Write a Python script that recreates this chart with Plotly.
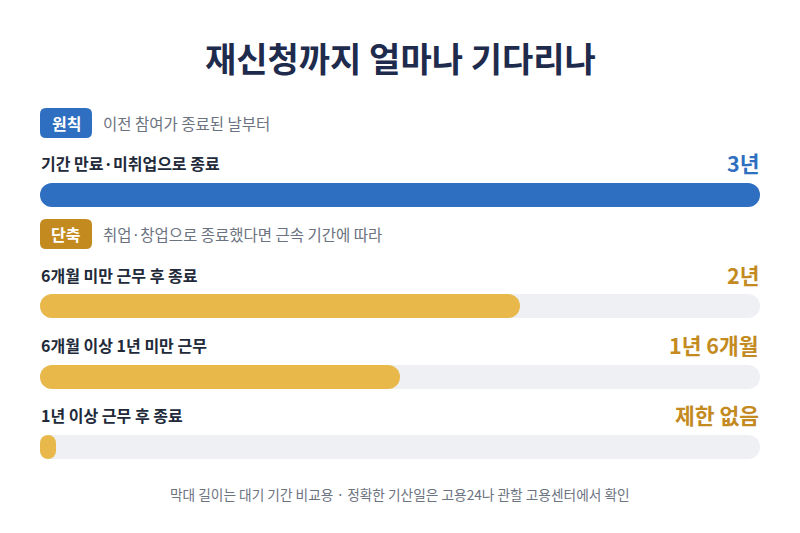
import plotly.graph_objects as go

# ---- data ----
title = "재신청까지 얼마나 기다리나"
sections = ["원칙", "단축"]
section_notes = ["이전 참여가 종료된 날부터", "취업·창업으로 종료했다면 근속 기간에 따라"]
categories = ["기간 만료·미취업으로 종료", "6개월 미만 근무 후 종료",
              "6개월 이상 1년 미만 근무", "1년 이상 근무 후 종료"]
wait_months = [36, 24, 18, 0.8]
value_labels = ["3년", "2년", "1년 6개월", "제한 없음"]
row_section = [0, 1, 1, 1]
max_months = 36
footer = "막대 길이는 대기 기간 비교용 · 정확한 기산일은 고용24나 관할 고용센터에서 확인"

# ---- style ----
W, H = 800, 533
FONT = "Noto Sans CJK KR"
sec_colors = ["#2f6fc1", "#c38b1f"]
bar_colors = ["#2f6fc1", "#e8b94a"]
val_colors = ["#2f6fc1", "#c38b1f"]
track = "#eef0f3"
bar_y = [195, 306, 377, 447]        # layout positions (px from top)
label_y = [163, 275, 345, 415]
badge_y = [123, 234]
BAR_H = 24

fig = go.Figure()

def pill(vals, color, name):
    fig.add_trace(go.Bar(
        y=bar_y, x=vals, base=[0] * len(vals),
        orientation="h", width=BAR_H,
        marker=dict(color=color, cornerradius=12, line=dict(width=0)),
        hoverinfo="skip", showlegend=False, name=name))

pill([max_months] * len(categories), track, "track")
pill(wait_months, [bar_colors[s] for s in row_section], "wait")

px = lambda x: x / W
py = lambda y: 1 - y / H

shapes = []
def rounded_rect(x0, y0, x1, y1, r, color):
    X0, X1 = px(x0), px(x1)
    Y0, Y1 = py(y0), py(y1)
    rx, ry = r / W, r / H
    path = (f"M{X0+rx},{Y0} L{X1-rx},{Y0} Q{X1},{Y0} {X1},{Y0-ry} "
            f"L{X1},{Y1+ry} Q{X1},{Y1} {X1-rx},{Y1} L{X0+rx},{Y1} "
            f"Q{X0},{Y1} {X0},{Y1+ry} L{X0},{Y0-ry} Q{X0},{Y0} {X0+rx},{Y0} Z")
    shapes.append(dict(type="path", path=path, xref="paper", yref="paper",
                       fillcolor=color, line=dict(width=0), layer="below"))

ann = []
ann.append(dict(x=0.5, y=py(58), text=f"<b>{title}</b>", showarrow=False,
                font=dict(family=FONT, size=34, color="#1e2b4d", weight=900),
                xanchor="center", yanchor="middle"))
for i, (s, note) in enumerate(zip(sections, section_notes)):
    rounded_rect(40, badge_y[i] - 15, 92, badge_y[i] + 15, 6, sec_colors[i])
    ann.append(dict(x=px(66), y=py(badge_y[i]), text=f"<b>{s}</b>", showarrow=False,
                    font=dict(family=FONT, size=16, color="white"),
                    xanchor="center", yanchor="middle"))
    ann.append(dict(x=px(101), y=py(badge_y[i]), text=note, showarrow=False,
                    font=dict(family=FONT, size=15.5, color="#6b7280"),
                    xanchor="left", yanchor="middle"))
for i, (c, v) in enumerate(zip(categories, value_labels)):
    ann.append(dict(x=px(39), y=py(label_y[i]), text=f"<b>{c}</b>", showarrow=False,
                    font=dict(family=FONT, size=16, color="#222a3a"),
                    xanchor="left", yanchor="middle"))
    ann.append(dict(x=px(761), y=py(label_y[i] - 1), text=f"<b>{v}</b>", showarrow=False,
                    font=dict(family=FONT, size=21.5, color=val_colors[row_section[i]]),
                    xanchor="right", yanchor="middle"))
ann.append(dict(x=0.5, y=py(494), text=footer, showarrow=False,
                font=dict(family=FONT, size=13.7, color="#6b7280"),
                xanchor="center", yanchor="middle"))
for a in ann:
    a.update(xref="paper", yref="paper")

fig.update_layout(
    width=W, height=H, margin=dict(l=0, r=0, t=0, b=0),
    paper_bgcolor="white", plot_bgcolor="white",
    barmode="overlay",
    xaxis=dict(domain=[40 / W, 760 / W], range=[0, max_months], visible=False, fixedrange=True),
    yaxis=dict(domain=[0, 1], range=[H, 0], visible=False, fixedrange=True),
    annotations=ann, shapes=shapes, showlegend=False,
    font=dict(family=FONT),
)

fig.write_html("out.html", config={"displayModeBar": False},
               post_script="document.body.style.margin='0';")
